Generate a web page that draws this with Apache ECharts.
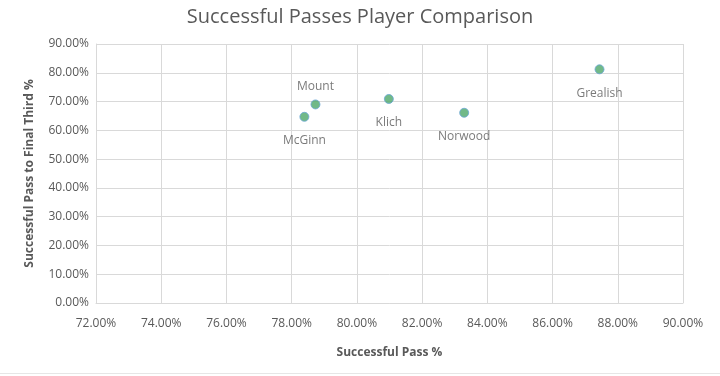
<!DOCTYPE html>
<html>
<head>
<meta charset="utf-8">
<script src="https://cdn.jsdelivr.net/npm/echarts@6/dist/echarts.min.js"></script>
<style>
  html, body { margin: 0; padding: 0; background: #fff; }
  #chart { width: 720px; height: 376px; }
</style>
</head>
<body>
<div id="chart"></div>
<script>
// values (percent)
const players = ['McGinn', 'Mount', 'Klich', 'Norwood', 'Grealish']
const passPct = [78.39, 78.73, 80.98, 83.29, 87.44]
const finalThirdPct = [64.7, 69.0, 70.9, 66.1, 81.2]
const labelPos = ['bottom', 'top', 'bottom', 'bottom', 'bottom']

const font = '"Open Sans", sans-serif'
const grey = '#595959'

const points = players.map((name, i) => ({
  name: name,
  value: [passPct[i], finalThirdPct[i]],
  label: { position: labelPos[i], distance: labelPos[i] === 'top' ? 7 : 13 }
}))

const myChart = echarts.init(document.getElementById('chart'))
myChart.setOption({
  animation: false,
  title: {
    text: 'Successful Passes Player Comparison',
    left: 'center',
    top: 2,
    textStyle: { fontFamily: font, fontSize: 20, fontWeight: 'normal', color: grey }
  },
  grid: { left: 96, right: 37, top: 44, bottom: 73 },
  xAxis: {
    type: 'value',
    min: 72, max: 90, interval: 2,
    name: 'Successful Pass %',
    nameLocation: 'middle',
    nameGap: 44,
    nameTextStyle: { fontFamily: font, fontSize: 12, fontWeight: 'bold', color: grey },
    axisLine: { show: true, lineStyle: { color: '#d9d9d9' } },
    axisTick: { show: false },
    axisLabel: { fontFamily: font, fontSize: 12, color: grey, margin: 15,
      formatter: v => v.toFixed(2) + '%' },
    splitLine: { show: true, lineStyle: { color: '#d9d9d9' } }
  },
  yAxis: {
    type: 'value',
    min: 0, max: 90, interval: 10,
    name: 'Successful Pass to Final Third %',
    nameLocation: 'middle',
    nameGap: 60,
    nameTextStyle: { fontFamily: font, fontSize: 12, fontWeight: 'bold', color: grey },
    axisLine: { show: true, lineStyle: { color: '#d9d9d9' } },
    axisTick: { show: false },
    axisLabel: { fontFamily: font, fontSize: 12, color: grey, margin: 7,
      formatter: v => v.toFixed(2) + '%' },
    splitLine: { show: true, lineStyle: { color: '#d9d9d9' } }
  },
  series: [{
    type: 'scatter',
    symbolSize: 9,
    itemStyle: { color: '#4ea86a', borderColor: '#6aa6d6', borderWidth: 1 },
    label: {
      show: true,
      formatter: p => p.name,
      fontFamily: font,
      fontSize: 12,
      color: grey
    },
    data: points
  }],
  graphic: [{
    type: 'line',
    shape: { x1: 0, y1: 373.5, x2: 720, y2: 373.5 },
    style: { stroke: '#e6e6e6', lineWidth: 1 }
  }]
})
</script>
</body>
</html>
